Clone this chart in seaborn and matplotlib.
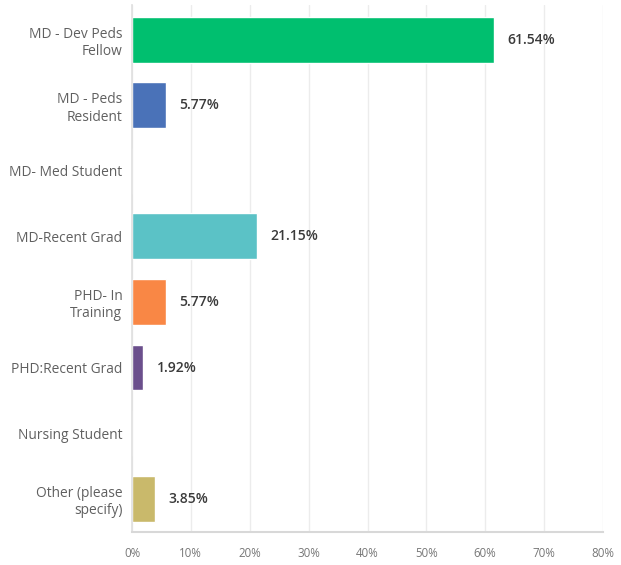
import matplotlib
matplotlib.use("Agg")
import matplotlib.pyplot as plt
import seaborn as sns
import pandas as pd

categories = ["MD - Dev Peds\nFellow", "MD - Peds\nResident", "MD- Med Student",
              "MD-Recent Grad", "PHD- In\nTraining", "PHD:Recent Grad",
              "Nursing Student", "Other (please\nspecify)"]
values = [61.54, 5.77, 0.0, 21.15, 5.77, 1.92, 0.0, 3.85]
value_labels = ["61.54%", "5.77%", "", "21.15%", "5.77%", "1.92%", "", "3.85%"]
colors = ["#00BF6F", "#4A72B8", "#C8C8C8", "#5BC2C6", "#F98745", "#6B4F8C", "#C8C8C8", "#C9B96B"]
xticks = [0, 10, 20, 30, 40, 50, 60, 70, 80]
xtick_labels = ["0%", "10%", "20%", "30%", "40%", "50%", "60%", "70%", "80%"]

sns.set_theme(style="white")
plt.rcParams['font.family'] = ['Open Sans', 'DejaVu Sans']

df = pd.DataFrame({"cat": categories, "val": values})

fig = plt.figure(figsize=(6.21, 5.65), dpi=100)
ax = fig.add_axes([0.2126, 0.0584, 0.7584, 0.9326])

sns.barplot(data=df, y="cat", x="val", hue="cat", palette=colors, legend=False,
            width=0.70, ax=ax, order=categories, saturation=1)

for i, (v, lab) in enumerate(zip(values, value_labels)):
    if lab:
        ax.text(v + 2.3, i, lab, va="center", ha="left", fontsize=10,
                color="#3a3a3a", fontweight="semibold")

ax.set_xlim(0, 80)
ax.set_ylim(7.51, -0.53)
ax.set_xticks(xticks)
ax.set_xticklabels(xtick_labels, fontsize=8.3, color="#777777")
ax.tick_params(axis="y", labelsize=9.9, labelcolor="#606060", length=0, pad=7)
ax.tick_params(axis="x", length=0, pad=11)
for lbl in ax.get_yticklabels():
    lbl.set_ha("right")
    lbl.set_multialignment("right")
ax.set_xlabel("")
ax.set_ylabel("")
ax.xaxis.grid(True, color="#ececec", linewidth=1)
ax.set_axisbelow(True)
for s in ["top", "right"]:
    ax.spines[s].set_visible(False)
ax.spines["left"].set_color("#e0e0e0")
ax.spines["bottom"].set_color("#d8d8d8")
ax.spines["bottom"].set_linewidth(1.5)

fig.savefig("out.png", dpi=100)
